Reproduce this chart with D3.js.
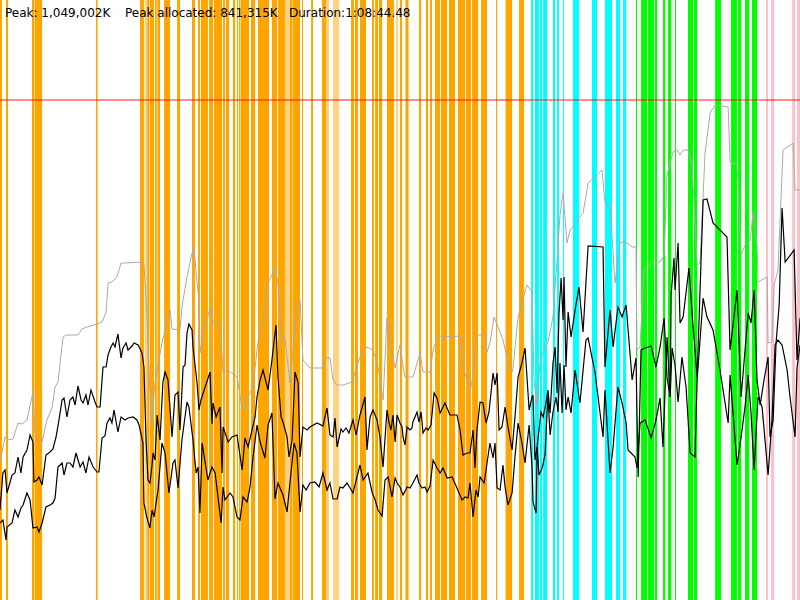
<!DOCTYPE html>
<html>
<head>
<meta charset="utf-8"/>
<style>
  body { margin: 0; background: #fff; }
  svg { display: block; }
  text { font-family: "DejaVu Sans", sans-serif; font-size: 12px; fill: #000; }
</style>
</head>
<body>
<svg id="chart" width="800" height="600"></svg>
<script src="https://cdn.jsdelivr.net/npm/d3@7/dist/d3.min.js"></script>
<script>
// time in seconds, memory in MB
const durationSec = 4124.48;
const durationLabel = "1:08:44.48";
const peakK = 1049002;
const peakAllocatedK = 841315;
const heapLimitMB = 1000;

// phase spans [start, end] (s)
const orangeSpans = [[0,10],[31,41],[165,175],[180,217],[495,503],[722,742],[759,770],[773,794],[799,808],[811,825],[846,877],[913,928],[990,1005],[1021,1031],[1036,1072],[1078,1098],[1103,1145],[1150,1160],[1165,1181],[1201,1212],[1222,1227],[1232,1237],[1240,1284],[1294,1315],[1330,1387],[1402,1428],[1433,1469],[1495,1506],[1508,1547],[1557,1562],[1604,1614],[1660,1681],[1810,1825],[1830,1846],[1856,1887],[1918,1928],[1934,1949],[1954,1970],[1995,2031],[2062,2073],[2093,2104],[2160,2171],[2196,2207],[2217,2227],[2243,2269],[2274,2305],[2315,2346],[2361,2398],[2403,2428],[2434,2465],[2480,2511],[2557,2563],[2609,2640],[2676,2702]];
const lightOrangeSpans = [[175,180],[746,759],[1469,1495],[1681,1696],[1717,1748],[2042,2052],[2088,2093],[2104,2109],[2604,2609]];
const cyanSpans = [[2738,2748],[2758,2779],[2784,2795],[2800,2820],[2851,2862],[2872,2882],[2903,2908],[2954,2985],[3052,3078],[3119,3155],[3176,3197],[3212,3228]];
const greenSpans = [[3279,3284],[3305,3336],[3341,3372],[3377,3388],[3418,3429],[3444,3460],[3480,3485],[3547,3573],[3578,3594],[3687,3717],[3769,3800],[3805,3821],[3841,3862],[3877,3903]];
const pinkSpans = [[3949,3960],[3975,3991],[4084,4099],[4109,4125]];

// heap size [t, MB]
const heapSize = [[0,276],[26,326],[36,320],[67,322],[93,354],[113,352],[139,360],[170,416],[180,334],[217,316],[242,360],[268,384],[284,426],[299,436],[325,526],[340,530],[402,530],[423,542],[449,546],[500,552],[526,556],[547,576],[557,634],[577,636],[603,646],[624,674],[645,674],[732,676],[742,674],[758,566],[779,354],[799,434],[835,514],[877,580],[887,542],[928,540],[938,586],[964,646],[990,694],[1000,704],[1016,634],[1026,600],[1031,494],[1047,534],[1083,584],[1098,556],[1134,556],[1150,454],[1170,460],[1196,454],[1222,446],[1248,384],[1263,382],[1279,406],[1304,426],[1325,500],[1341,546],[1356,554],[1382,634],[1418,664],[1433,634],[1454,520],[1469,524],[1495,434],[1511,500],[1531,594],[1547,600],[1562,480],[1598,464],[1660,464],[1686,486],[1701,484],[1717,440],[1738,430],[1768,430],[1815,436],[1856,486],[1892,506],[1923,500],[1949,466],[1975,400],[1995,564],[2011,514],[2037,464],[2062,510],[2078,466],[2088,446],[2129,446],[2166,494],[2181,456],[2217,456],[2233,500],[2258,530],[2284,526],[2372,528],[2387,466],[2413,434],[2428,424],[2439,454],[2459,530],[2501,530],[2511,496],[2526,514],[2547,566],[2568,546],[2593,520],[2614,486],[2640,456],[2645,464],[2671,566],[2691,596],[2717,630],[2743,616],[2753,440],[2769,390],[2784,476],[2800,496],[2825,516],[2851,566],[2862,630],[2872,680],[2887,770],[2903,814],[2923,714],[2939,740],[2990,766],[3006,774],[3032,834],[3104,860],[3119,794],[3145,790],[3171,634],[3197,716],[3233,714],[3259,706],[3279,706],[3284,500],[3300,506],[3320,660],[3362,674],[3403,676],[3424,690],[3439,850],[3470,896],[3491,900],[3506,890],[3522,900],[3547,900],[3568,874],[3594,670],[3609,674],[3635,894],[3661,974],[3687,990],[3754,986],[3764,876],[3800,870],[3821,690],[3841,710],[3867,718],[3883,776],[3903,710],[3908,636],[3955,646],[3960,514],[3980,516],[3991,630],[4011,660],[4037,900],[4089,914],[4099,820],[4125,820]];

// allocated [t, MB]
const allocated = [[0,180],[15,254],[26,260],[36,214],[62,250],[77,254],[93,286],[108,254],[119,286],[139,300],[155,330],[170,316],[175,236],[191,240],[201,246],[217,230],[237,290],[258,296],[273,302],[289,326],[304,360],[320,400],[330,404],[345,366],[361,400],[376,406],[387,390],[402,428],[418,400],[428,394],[443,410],[454,390],[469,420],[490,396],[500,386],[516,386],[531,466],[547,466],[557,490],[572,506],[583,514],[593,506],[608,532],[624,484],[634,504],[650,514],[660,500],[681,508],[691,514],[712,510],[732,494],[742,466],[753,320],[763,240],[773,234],[784,270],[789,294],[799,280],[810,370],[825,320],[840,436],[851,456],[866,440],[887,326],[902,410],[918,416],[928,340],[944,466],[954,470],[964,534],[974,552],[990,540],[995,506],[1016,434],[1026,380],[1036,400],[1083,456],[1093,352],[1098,394],[1114,366],[1134,386],[1145,254],[1150,346],[1176,316],[1196,326],[1222,330],[1248,260],[1263,324],[1279,306],[1315,366],[1325,406],[1341,440],[1356,460],[1382,420],[1402,480],[1423,550],[1433,446],[1449,366],[1459,356],[1480,326],[1490,286],[1506,320],[1521,456],[1537,434],[1547,286],[1562,346],[1583,340],[1598,346],[1635,354],[1665,348],[1686,384],[1701,330],[1717,326],[1727,364],[1738,306],[1758,342],[1768,336],[1784,344],[1799,334],[1820,360],[1836,330],[1856,370],[1882,406],[1892,300],[1908,366],[1923,380],[1944,360],[1959,326],[1975,266],[1995,380],[2006,354],[2016,340],[2026,370],[2037,316],[2047,370],[2062,354],[2073,346],[2078,326],[2088,310],[2099,346],[2114,340],[2124,344],[2129,356],[2150,376],[2160,356],[2171,376],[2181,334],[2196,344],[2207,340],[2222,350],[2238,414],[2253,404],[2269,374],[2284,386],[2294,394],[2320,370],[2356,370],[2372,340],[2387,290],[2408,294],[2423,294],[2439,340],[2449,264],[2459,340],[2475,396],[2490,394],[2506,354],[2521,376],[2542,454],[2552,430],[2563,454],[2573,340],[2588,346],[2604,386],[2619,346],[2640,300],[2655,366],[2671,446],[2691,474],[2707,504],[2728,380],[2743,406],[2748,410],[2758,280],[2769,306],[2779,340],[2789,376],[2800,366],[2815,394],[2825,420],[2836,374],[2851,474],[2862,506],[2872,414],[2882,574],[2893,644],[2903,560],[2908,646],[2918,466],[2929,576],[2944,526],[2965,580],[2985,626],[3006,536],[3032,708],[3109,706],[3119,466],[3145,580],[3161,506],[3186,586],[3207,566],[3228,590],[3259,440],[3279,484],[3290,246],[3305,500],[3326,504],[3357,508],[3382,466],[3403,506],[3424,564],[3439,444],[3455,406],[3460,610],[3475,684],[3480,620],[3496,714],[3506,554],[3522,566],[3552,664],[3568,574],[3594,446],[3625,800],[3645,802],[3676,754],[3748,726],[3764,500],[3800,620],[3821,406],[3857,574],[3872,554],[3888,620],[3903,440],[3919,390],[3939,440],[3960,486],[3970,326],[3986,360],[4001,514],[4017,590],[4032,784],[4048,676],[4094,700],[4109,480],[4125,564]];

// used [t, MB]
const used = [[0,154],[15,160],[31,120],[36,146],[62,154],[77,180],[93,166],[108,184],[119,190],[139,214],[155,200],[170,144],[191,146],[201,136],[217,154],[237,186],[258,190],[273,194],[284,204],[299,266],[320,274],[330,250],[345,274],[361,274],[376,266],[392,294],[413,266],[428,276],[443,254],[459,286],[480,266],[500,256],[510,256],[526,324],[541,328],[552,354],[567,364],[577,354],[588,380],[608,336],[624,366],[645,360],[660,364],[686,366],[706,360],[717,350],[737,314],[742,194],[758,164],[773,144],[784,180],[794,166],[815,220],[835,314],[851,294],[871,214],[892,274],[902,280],[918,224],[938,320],[964,396],[974,386],[995,320],[1011,254],[1021,266],[1031,174],[1042,314],[1072,240],[1093,266],[1109,254],[1140,154],[1150,226],[1160,200],[1186,214],[1201,206],[1222,166],[1237,160],[1253,206],[1274,196],[1289,226],[1304,284],[1325,350],[1341,316],[1366,284],[1382,350],[1402,374],[1418,202],[1433,234],[1459,210],[1480,176],[1495,234],[1516,314],[1531,294],[1547,176],[1562,230],[1578,220],[1598,234],[1624,236],[1645,226],[1665,254],[1686,220],[1701,234],[1717,202],[1738,202],[1753,226],[1768,224],[1789,234],[1805,224],[1820,214],[1856,270],[1872,240],[1897,254],[1918,216],[1934,200],[1949,180],[1970,168],[1985,240],[2001,246],[2021,206],[2037,244],[2047,234],[2062,226],[2078,210],[2099,226],[2114,224],[2129,234],[2150,250],[2160,234],[2176,224],[2191,226],[2202,216],[2217,228],[2233,280],[2253,264],[2269,254],[2284,264],[2305,244],[2331,246],[2356,224],[2382,200],[2398,206],[2413,204],[2423,234],[2439,166],[2454,220],[2465,206],[2475,246],[2496,234],[2526,314],[2542,284],[2552,314],[2563,224],[2578,220],[2593,270],[2604,226],[2619,190],[2640,214],[2655,286],[2671,354],[2691,314],[2707,274],[2728,350],[2743,266],[2748,196],[2764,174],[2769,306],[2779,250],[2795,264],[2810,290],[2825,410],[2836,330],[2851,376],[2867,406],[2877,376],[2887,474],[2898,374],[2908,470],[2918,380],[2929,406],[2944,374],[2965,460],[2990,394],[3021,520],[3032,524],[3068,454],[3109,326],[3119,420],[3145,254],[3161,306],[3186,426],[3207,394],[3228,354],[3238,300],[3274,286],[3284,264],[3300,354],[3326,360],[3357,324],[3382,360],[3403,404],[3418,306],[3439,526],[3455,406],[3465,504],[3480,470],[3496,396],[3516,486],[3537,426],[3558,294],[3583,286],[3594,440],[3625,604],[3645,566],[3676,540],[3712,460],[3754,354],[3764,450],[3800,270],[3821,326],[3841,386],[3857,450],[3872,374],[3888,260],[3908,406],[3929,386],[3960,250],[3980,360],[3996,510],[4011,520],[4032,510],[4058,460],[4073,406],[4099,326],[4109,464],[4125,510]];

const width = 800;
const height = 600;
const svg = d3.select("#chart");

const x = d3.scaleLinear().domain([0, durationSec]).range([0, width]);
const y = d3.scaleLinear().domain([0, 1200]).range([height, 0]);

// phase bands
function bands(spans, color, opacity) {
  svg.append("g")
     .selectAll("rect")
     .data(spans)
     .enter()
     .append("rect")
     .attr("x", d => x(d[0]))
     .attr("y", 0)
     .attr("width", d => Math.max(1, x(d[1]) - x(d[0])))
     .attr("height", height)
     .attr("fill", color)
     .attr("fill-opacity", opacity);
}
bands(orangeSpans, "#ffa500", 1);
bands(lightOrangeSpans, "#ffa500", 0.5);
bands(cyanSpans, "#00ffff", 1);
bands(greenSpans, "#00ff00", 1);
bands(pinkSpans, "#ffc0cb", 1);

// heap limit
svg.append("line")
   .attr("x1", 0).attr("x2", width)
   .attr("y1", y(heapLimitMB)).attr("y2", y(heapLimitMB))
   .attr("stroke", "#ff0000")
   .attr("stroke-opacity", 0.6)
   .attr("stroke-width", 1.5);

const line = d3.line().x(d => x(d[0])).y(d => y(d[1]));

svg.append("path").datum(heapSize)
   .attr("d", line).attr("fill", "none")
   .attr("stroke", "#aaaaaa").attr("stroke-width", 1);

svg.append("path").datum(allocated)
   .attr("d", line).attr("fill", "none")
   .attr("stroke", "#000").attr("stroke-width", 1.2);

svg.append("path").datum(used)
   .attr("d", line).attr("fill", "none")
   .attr("stroke", "#000").attr("stroke-width", 1.2);

// header
const fmt = d3.format(",");
const header = [
  {x: 5,   s: "Peak: " + fmt(peakK) + "K"},
  {x: 125, s: "Peak allocated: " + fmt(peakAllocatedK) + "K"},
  {x: 289, s: "Duration:" + durationLabel}
];
svg.append("g")
   .selectAll("text")
   .data(header)
   .enter()
   .append("text")
   .attr("x", d => d.x)
   .attr("y", 17)
   .text(d => d.s);
</script>
</body>
</html>
